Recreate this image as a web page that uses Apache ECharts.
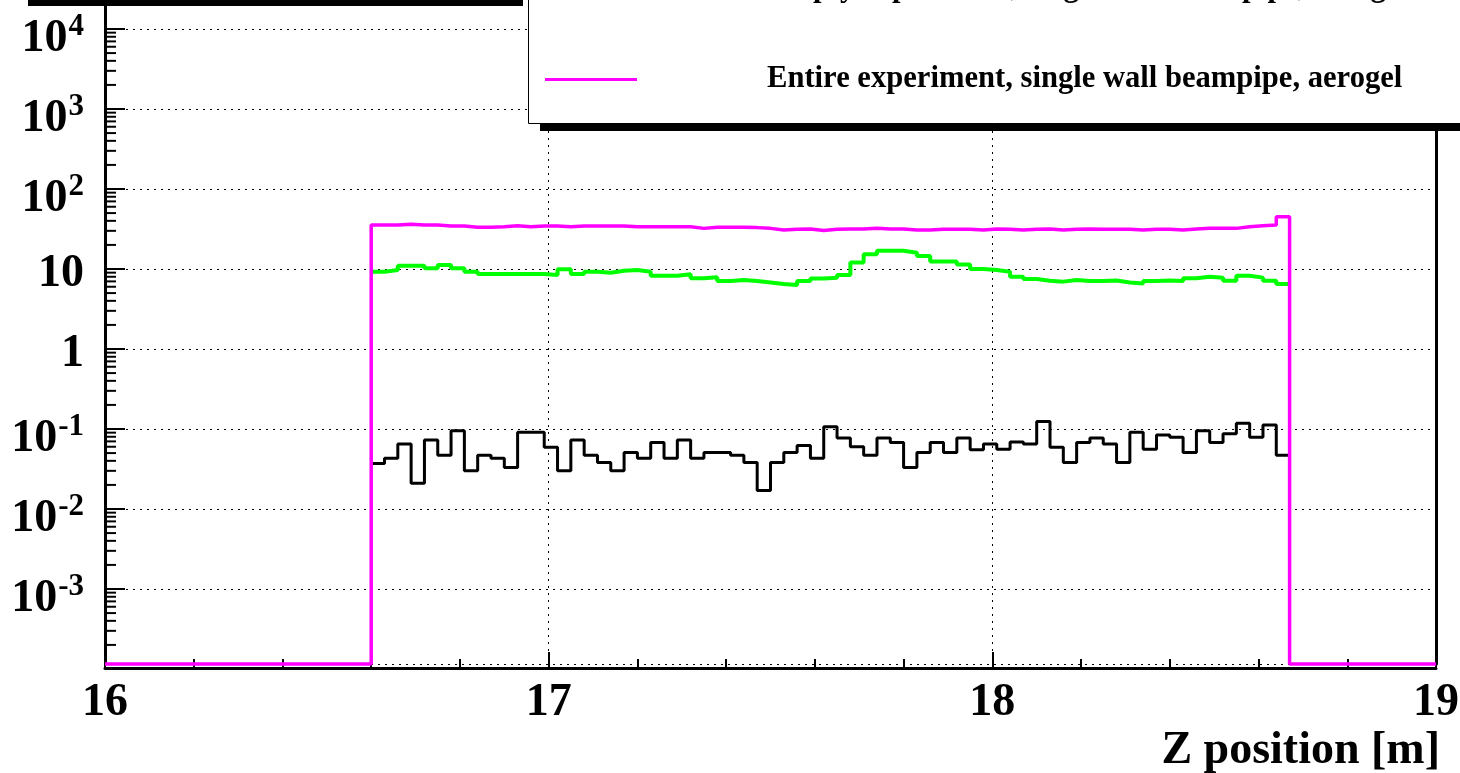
<!DOCTYPE html>
<html><head><meta charset="utf-8">
<script src="https://cdn.jsdelivr.net/npm/echarts@6/dist/echarts.min.js"></script>
<style>html,body{margin:0;padding:0;background:#fff}#c{width:1460px;height:773px}</style>
</head><body><div id="c"></div>
<script>
// histogram binning (100 bins over 16..19 m, filled bins 16.60..18.67)
const binStart = 16.6;
const binWidth = 0.03;

const blackValues = [0.037,0.043,0.065,0.021,0.073,0.047,0.095,0.030,0.047,0.043,
  0.033,0.091,0.091,0.059,0.030,0.073,0.047,0.038,0.030,0.051,
  0.043,0.068,0.043,0.073,0.043,0.051,0.051,0.047,0.038,0.017,
  0.038,0.051,0.062,0.043,0.107,0.077,0.060,0.047,0.077,0.068,
  0.033,0.051,0.068,0.051,0.077,0.055,0.065,0.056,0.069,0.065,
  0.124,0.059,0.038,0.068,0.077,0.065,0.038,0.091,0.056,0.084,
  0.079,0.051,0.095,0.068,0.087,0.118,0.079,0.112,0.047];

const greenValues = [9.25,9.7,11.0,11.0,10.2,11.2,10.2,9.25,8.66,8.66,
  8.66,8.66,8.66,8.4,9.9,8.66,9.25,9.0,9.5,9.7,
  9.25,8.25,8.25,8.6,7.65,7.9,7.08,7.3,7.08,6.8,
  6.5,6.3,7.08,7.6,7.8,8.4,12.1,15.3,16.9,16.9,
  16.0,14.5,12.4,12.4,11.4,10.0,9.7,9.25,8.0,7.5,
  7.14,6.95,7.3,7.08,7.08,7.2,6.8,6.6,7.08,7.2,
  7.08,7.65,8.0,7.8,7.14,8.25,7.8,7.14,6.5];

const magentaValues = [35.5,35.5,36.2,35.5,35.5,34.5,34.5,33.2,33.2,33.8,
  34.8,33.8,34.5,34.5,33.8,34.5,34.5,34.5,34.5,33.8,
  33.8,33.8,33.8,33.8,32.2,33.2,33.2,33.2,32.9,32.2,
  30.7,31.3,31.6,30.2,31.3,31.6,31.6,32.2,31.6,31.6,
  30.7,30.7,31.3,31.3,31.3,30.7,31.6,31.3,30.7,31.3,
  31.6,30.7,31.3,31.6,31.3,31.3,31.3,30.7,31.3,31.3,
  30.7,31.6,32.2,32.2,32.2,33.8,34.8,35.5,45.1];

const seriesNames = ['Beampipe histogram',
  'Empty experiment, single wall beampipe, aerogel',
  'Entire experiment, single wall beampipe, aerogel'];
const seriesColors = ['#000000', '#00ff00', '#ff00ff'];
const seriesWidths = [3, 4, 3.5];

const xMin = 16, xMax = 19, xInterval = 1;
const yMin = Math.pow(10, -3.9375);
const yMax = 1e5;
const yMinorMultipliers = [2,3,4,5,6,7,8,9];
const yMinorDecades = [-4,-3,-2,-1,0,1,2,3,4];
const xAxisTitle = 'Z position [m]';

const FONT = '"Liberation Serif", "Times New Roman", serif';

function histData(vals, floor) {
  const d = [];
  if (floor) d.push([xMin, yMin]);
  vals.forEach((v, i) => d.push([binStart + i * binWidth, v]));
  const end = binStart + vals.length * binWidth;
  d.push([end, vals[vals.length - 1]]);
  if (floor) { d.push([end, yMin]); d.push([xMax, yMin]); }
  return d;
}

const minorTicks = [];
yMinorDecades.forEach(n => yMinorMultipliers.forEach(k => {
  const v = k * Math.pow(10, n);
  if (v > yMin && v < yMax) minorTicks.push([xMin, v]);
}));

function mkLine(idx, vals, floor) {
  return {
    name: seriesNames[idx], type: 'line', step: 'end', data: histData(vals, floor),
    showSymbol: false, symbol: 'none', clip: false, silent: true,
    lineStyle: { color: seriesColors[idx], width: seriesWidths[idx] }, itemStyle: { color: seriesColors[idx] },
    z: 2 + idx
  };
}

const legendText = { color: '#000', fontFamily: FONT, fontWeight: 'bold', fontSize: 30.6, lineHeight: 30, padding: [0, 0, 0, 125] };

const chart = echarts.init(document.getElementById('c'), null, { renderer: 'canvas' });
chart.setOption({
  animation: false,
  backgroundColor: '#ffffff',
  grid: { left: 105, right: 24, top: -51, bottom: 109, containLabel: false, outerBoundsMode: 'none' },
  xAxis: {
    type: 'value', min: xMin, max: xMax, interval: xInterval, offset: 4,
    axisLine: { show: true, onZero: false, lineStyle: { color: '#000', width: 3 } },
    axisTick: { show: true, inside: true, length: 16, lineStyle: { color: '#000', width: 2 } },
    minorTick: { show: true, splitNumber: 5, length: 9, lineStyle: { color: '#000', width: 2 } },
    axisLabel: { show: true, margin: 12, color: '#000', fontFamily: FONT, fontWeight: 'bold', fontSize: 46, lineHeight: 46,
      showMinLabel: true, showMaxLabel: true, formatter: v => String(Math.round(v)) },
    splitLine: { show: true, lineStyle: { color: '#000', width: 1, type: [2, 5] } },
    minorSplitLine: { show: false },
    name: xAxisTitle, nameLocation: 'end', nameGap: 4, nameMoveOverlap: false,
    nameTextStyle: { color: '#000', fontFamily: FONT, fontWeight: 'bold', fontSize: 46, lineHeight: 46,
      align: 'right', verticalAlign: 'top', padding: [60, 0, 0, 0] }
  },
  yAxis: [{
    type: 'log', logBase: 10, min: yMin, max: yMax,
    axisLine: { show: true, onZero: false, lineStyle: { color: '#000', width: 3 } },
    axisTick: { show: true, inside: true, length: 20, lineStyle: { color: '#000', width: 2 } },
    minorTick: { show: false },
    axisLabel: {
      show: true, margin: 21, showMinLabel: false, showMaxLabel: false,
      formatter: function (v) {
        const e = Math.log10(v); const n = Math.round(e);
        if (Math.abs(e - n) > 1e-6) return '';
        if (n === 0) return '{p|1}';
        if (n === 1) return '{p|10}';
        return '{b|10}{s|' + n + '}';
      },
      rich: {
        p: { color: '#000', fontFamily: FONT, fontWeight: 'bold', fontSize: 46, lineHeight: 46, padding: [11, 0, 0, 0] },
        b: { color: '#000', fontFamily: FONT, fontWeight: 'bold', fontSize: 46, lineHeight: 46, padding: [20, 0, 0, 0] },
        s: { color: '#000', fontFamily: FONT, fontWeight: 'bold', fontSize: 31, lineHeight: 31, padding: [0, 0, 5, 1] }
      }
    },
    splitLine: { show: true, lineStyle: { color: '#000', width: 1, type: [2, 5] } }
  }, {
    type: 'log', logBase: 10, min: yMin, max: yMax, position: 'right',
    axisLine: { show: true, onZero: false, lineStyle: { color: '#000', width: 3 } },
    axisTick: { show: false }, axisLabel: { show: false }, splitLine: { show: false }, minorTick: { show: false }
  }],
  legend: [{
    data: [seriesNames[1]], orient: 'vertical', left: 545, top: -27, padding: 0, z: 60,
    icon: 'rect', itemWidth: 92, itemHeight: 3, selectedMode: false, textStyle: legendText
  }, {
    data: [seriesNames[2]], orient: 'vertical', left: 545, top: 64, padding: 0, z: 60,
    icon: 'rect', itemWidth: 92, itemHeight: 3, selectedMode: false, textStyle: legendText
  }],
  graphic: [
    { type: 'rect', z: 50, silent: true, shape: { x: 28, y: -10, width: 495, height: 16 }, style: { fill: '#000' } },
    { type: 'rect', z: 50, silent: true, shape: { x: 540, y: -100, width: 1000, height: 231 }, style: { fill: '#000' } },
    { type: 'rect', z: 51, silent: true, shape: { x: 528.5, y: -100, width: 1000, height: 223.5 }, style: { fill: '#fff', stroke: '#000', lineWidth: 1 } }
  ],
  series: [
    {
      name: 'minor ticks', type: 'custom', data: minorTicks, silent: true, clip: false, z: 1,
      renderItem: function (params, api) {
        const p = api.coord([api.value(0), api.value(1)]);
        return { type: 'line', shape: { x1: p[0], y1: p[1], x2: p[0] + 11, y2: p[1] }, style: { stroke: '#000', lineWidth: 2 } };
      }
    },
    mkLine(0, blackValues, false),
    mkLine(1, greenValues, false),
    mkLine(2, magentaValues, true)
  ]
});
</script></body></html>
